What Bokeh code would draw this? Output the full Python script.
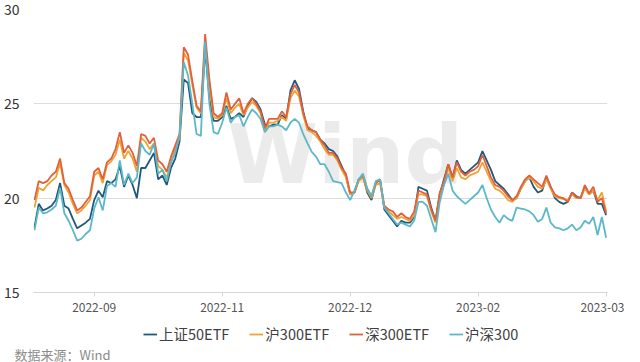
from bokeh.plotting import figure
from bokeh.models import Range1d, FixedTicker, Legend, LegendItem, Label, Title
from bokeh.layouts import column
from bokeh.embed import file_html
from bokeh.resources import INLINE

# ---- data ----
tick_idx = [14, 44, 74, 104, 134]
tick_labels = ["2022-09", "2022-11", "2022-12", "2023-02", "2023-03"]
y_ticks = [15, 20, 25, 30]
series_names = ["上证50ETF", "沪300ETF", "深300ETF", "沪深300"]

sz50etf = [18.45, 19.7, 19.35, 19.45, 19.6, 19.9, 20.8, 19.6, 19.45, 18.9, 18.4, 18.55, 18.7, 18.9, 19.9, 20.4, 20.05, 20.9, 20.8,
           21.0, 21.7, 20.6, 21.2, 20.7, 20.0, 21.6, 21.6, 22.0, 22.4, 21.0, 21.2, 20.7, 21.6, 22.1, 23.0, 26.3, 26.1, 24.5, 24.3,
           24.3, 27.9, 25.3, 24.1, 24.1, 24.3, 24.9, 24.2, 24.3, 24.5, 24.3, 24.9, 25.3, 25.1, 24.7, 23.9, 23.8, 23.9, 23.9, 24.4,
           24.2, 25.7, 26.25, 25.8, 24.6, 23.7, 23.6, 23.5, 23.1, 22.9, 22.6, 22.5, 22.2, 21.7,
           21.2, 20.2, 20.3, 21.0, 21.2, 20.3, 19.9, 20.8, 21.0, 19.4, 19.1, 18.8, 18.5, 18.8, 18.7, 18.7, 19.0, 20.6, 20.5, 20.4, 19.5, 18.8, 20.2, 21.0,
           21.8, 21.1, 22.0, 21.5, 21.3, 21.5, 21.7, 21.9, 22.5, 22.0, 21.5, 20.9, 20.7, 20.5, 20.2, 19.9, 20.0, 20.5, 20.9, 21.1,
           20.6, 20.3, 20.4, 21.1, 20.6, 20.0, 19.8, 19.7, 19.8, 20.3, 20.1, 20.0, 20.6, 20.2, 20.4, 19.7, 19.7, 19.1]

h300etf = [19.5, 20.55, 20.4, 20.7, 20.9, 21.1, 21.85, 20.7, 20.3, 19.7, 19.2, 19.35, 19.6, 19.9, 21.2, 21.4, 20.8, 21.75, 21.95,
           22.3, 23.1, 22.1, 22.5, 22.1, 21.4, 23.2, 23.0, 22.6, 22.9, 21.7, 21.5, 21.1, 21.9, 22.6, 23.2, 27.7, 27.3, 26.0, 24.8,
           24.5, 28.3, 25.9, 24.3, 24.2, 24.4, 25.3, 24.5, 24.8, 25.0, 24.4, 24.8, 25.1, 24.9, 24.5, 23.6, 24.0, 24.0, 24.1, 24.3,
           24.1, 25.3, 25.7, 25.4, 24.4, 23.6, 23.5, 23.3, 23.0, 22.6, 22.3, 22.3, 22.0, 21.5,
           21.1, 20.2, 20.3, 20.9, 21.1, 20.4, 20.0, 20.7, 20.8, 19.5, 19.3, 19.1, 18.9, 19.0, 18.9, 18.8, 19.1, 20.2, 20.2, 20.1, 19.3, 18.7, 20.2, 20.8,
           21.6, 20.9, 21.6, 21.1, 21.0, 21.2, 21.3, 21.4, 21.9, 21.4, 20.9, 20.5, 20.4, 20.2, 19.9, 19.8, 20.0, 20.5, 20.9, 21.1,
           20.9, 20.6, 20.5, 21.0, 20.5, 20.1, 20.0, 19.95, 19.9, 20.2, 20.0, 20.0, 20.5, 20.2, 20.4, 19.9, 20.3, 19.3]

s300etf = [19.9, 20.9, 20.8, 20.9, 21.2, 21.4, 22.1, 20.8, 20.5, 19.9, 19.35, 19.5, 19.8, 20.1, 21.4, 21.6, 21.0, 21.9, 22.1,
           22.6, 23.5, 22.4, 22.8, 22.4, 21.7, 23.4, 23.3, 22.9, 23.2, 22.0, 21.8, 21.4, 22.2, 22.8, 23.4, 28.0, 27.6, 26.2, 24.9,
           24.6, 28.7, 26.3, 24.5, 24.3, 24.5, 25.6, 24.7, 25.0, 25.3, 24.5, 25.0, 25.3, 25.0, 24.6, 23.7, 24.2, 24.2, 24.2, 24.6,
           24.3, 25.5, 26.0, 25.6, 24.5, 23.8, 23.6, 23.5, 23.1, 22.8, 22.4, 22.4, 22.1, 21.6,
           21.3, 20.3, 20.3, 21.0, 21.2, 20.5, 20.1, 20.8, 21.0, 19.6, 19.4, 19.3, 19.0, 19.2, 19.0, 18.9, 19.3, 20.4, 20.3, 20.2, 19.4, 18.8, 20.3, 20.9,
           21.8, 21.1, 21.9, 21.4, 21.2, 21.4, 21.5, 21.7, 22.3, 21.7, 21.1, 20.7, 20.6, 20.4, 20.1, 19.9, 20.1, 20.6, 21.0, 21.2,
           21.0, 20.8, 20.6, 21.2, 20.6, 20.2, 20.05, 20.0, 19.8, 20.3, 20.05, 20.0, 20.7, 20.25, 20.6, 19.8, 20.0, 19.2]

hs300 = [18.3, 19.5, 19.2, 19.25, 19.4, 19.6, 20.55, 19.2, 18.8, 18.3, 17.75, 17.85, 18.1, 18.3, 19.45, 20.05, 19.35, 20.65, 20.8,
         20.6, 22.0, 20.7, 21.3, 20.8, 21.1, 22.9, 22.5, 22.3, 22.9, 21.3, 21.5, 20.9, 21.9, 22.4, 23.3, 27.2, 26.5, 25.0, 23.4,
         23.3, 28.3, 25.0, 23.5, 23.4, 24.0, 24.8, 24.0, 24.3, 24.4, 23.8, 24.3, 24.7, 24.5, 24.2, 23.5, 23.8, 23.8, 23.9, 23.8,
         23.6, 24.0, 24.2, 24.0, 23.4, 22.9, 22.45, 22.2, 21.8, 21.8, 21.4, 20.9, 20.85, 20.8,
         20.3, 19.9, 20.4, 21.0, 21.3, 20.5, 20.1, 20.9, 21.0, 19.5, 19.2, 18.9, 18.6, 18.7, 18.6, 18.5, 18.8, 19.8, 19.8, 19.6, 18.9, 18.2, 19.8, 20.7,
         21.3, 20.4, 20.1, 19.9, 19.7, 19.9, 20.1, 20.3, 20.7, 20.0, 19.4, 19.0, 18.7, 19.1, 18.9, 18.8, 19.5, 19.45, 19.4, 19.3,
         19.1, 18.75, 18.9, 19.5, 18.7, 18.45, 18.4, 18.3, 18.4, 18.6, 18.3, 18.45, 18.8, 18.65, 19.0, 18.05, 19.0, 17.9]

series_values = [sz50etf, h300etf, s300etf, hs300]
colors = ["#22587a", "#f0a332", "#e2603b", "#5cb8c8"]
x = list(range(len(sz50etf)))

FONT = "Noto Sans CJK SC"

# ---- main chart ----
p = figure(width=624, height=320, output_backend="svg", toolbar_location=None,
           x_range=Range1d(-0.23, 134.32), y_range=Range1d(15, 30),
           min_border_left=24, min_border_right=17, min_border_top=9, min_border_bottom=28)
p.outline_line_color = None
p.background_fill_color = "white"
p.border_fill_color = "white"

p.xgrid.visible = False
p.ygrid.ticker = FixedTicker(ticks=y_ticks)
p.ygrid.grid_line_color = "#dcdcdc"

p.yaxis.ticker = FixedTicker(ticks=y_ticks)
p.yaxis.axis_line_color = None
p.yaxis.major_tick_line_color = None
p.yaxis.minor_tick_line_color = None
p.yaxis.major_label_text_font = FONT
p.yaxis.major_label_text_font_size = "14px"
p.yaxis.major_label_text_color = "#333333"
p.yaxis.major_label_standoff = 8

p.xaxis.ticker = FixedTicker(ticks=tick_idx)
p.xaxis.major_label_overrides = {t: l for t, l in zip(tick_idx, tick_labels)}
p.xaxis.axis_line_color = "#d6d6d6"
p.xaxis.major_tick_line_color = "#d6d6d6"
p.xaxis.major_tick_out = 4
p.xaxis.major_tick_in = 0
p.xaxis.minor_tick_line_color = None
p.xaxis.major_label_text_font = FONT
p.xaxis.major_label_text_font_size = "12px"
p.xaxis.major_label_text_color = "#555555"
p.xaxis.major_label_standoff = 6

# watermark
wm = Label(x=194, y=91, x_units="screen", y_units="screen", text="Wind",
           text_font="DejaVu Sans", text_font_style="bold", text_font_size="82px",
           text_color="#ebebeb", level="underlay")
p.add_layout(wm)

for vals, col in zip(series_values, colors):
    p.line(x, vals, line_color=col, line_width=1.8)

# ---- legend + source strip (same series; the lines fall outside this strip's range) ----
p2 = figure(width=624, height=42, output_backend="svg", toolbar_location=None,
            x_axis_type=None, y_axis_type=None,
            x_range=Range1d(0, 1), y_range=Range1d(0, 1),
            min_border_left=24, min_border_right=17, min_border_top=0, min_border_bottom=0)
p2.outline_line_color = None
p2.background_fill_color = "white"
p2.border_fill_color = "white"

leg_renderers = []
for vals, col in zip(series_values, colors):
    leg_renderers.append(p2.line(x, vals, line_color=col, line_width=1.8))

legend = Legend(items=[LegendItem(label=n, renderers=[r]) for n, r in zip(series_names, leg_renderers)],
                orientation="horizontal", location=(110, -1),
                border_line_color=None, background_fill_alpha=0, padding=0, margin=0,
                spacing=20, glyph_width=14, glyph_height=16, label_standoff=2,
                label_height=16, label_text_font=FONT, label_text_font_size="14.5px",
                label_text_color="#404040")
p2.add_layout(legend)

src = Title(text="数据来源：Wind", align="left", offset=-19, standoff=-2,
            text_font=FONT, text_font_size="13px", text_color="#8c8c8c",
            text_font_style="normal")
p2.add_layout(src, "below")

layout = column(p, p2, spacing=0)
open("out.html", "w").write(file_html(layout, INLINE))
